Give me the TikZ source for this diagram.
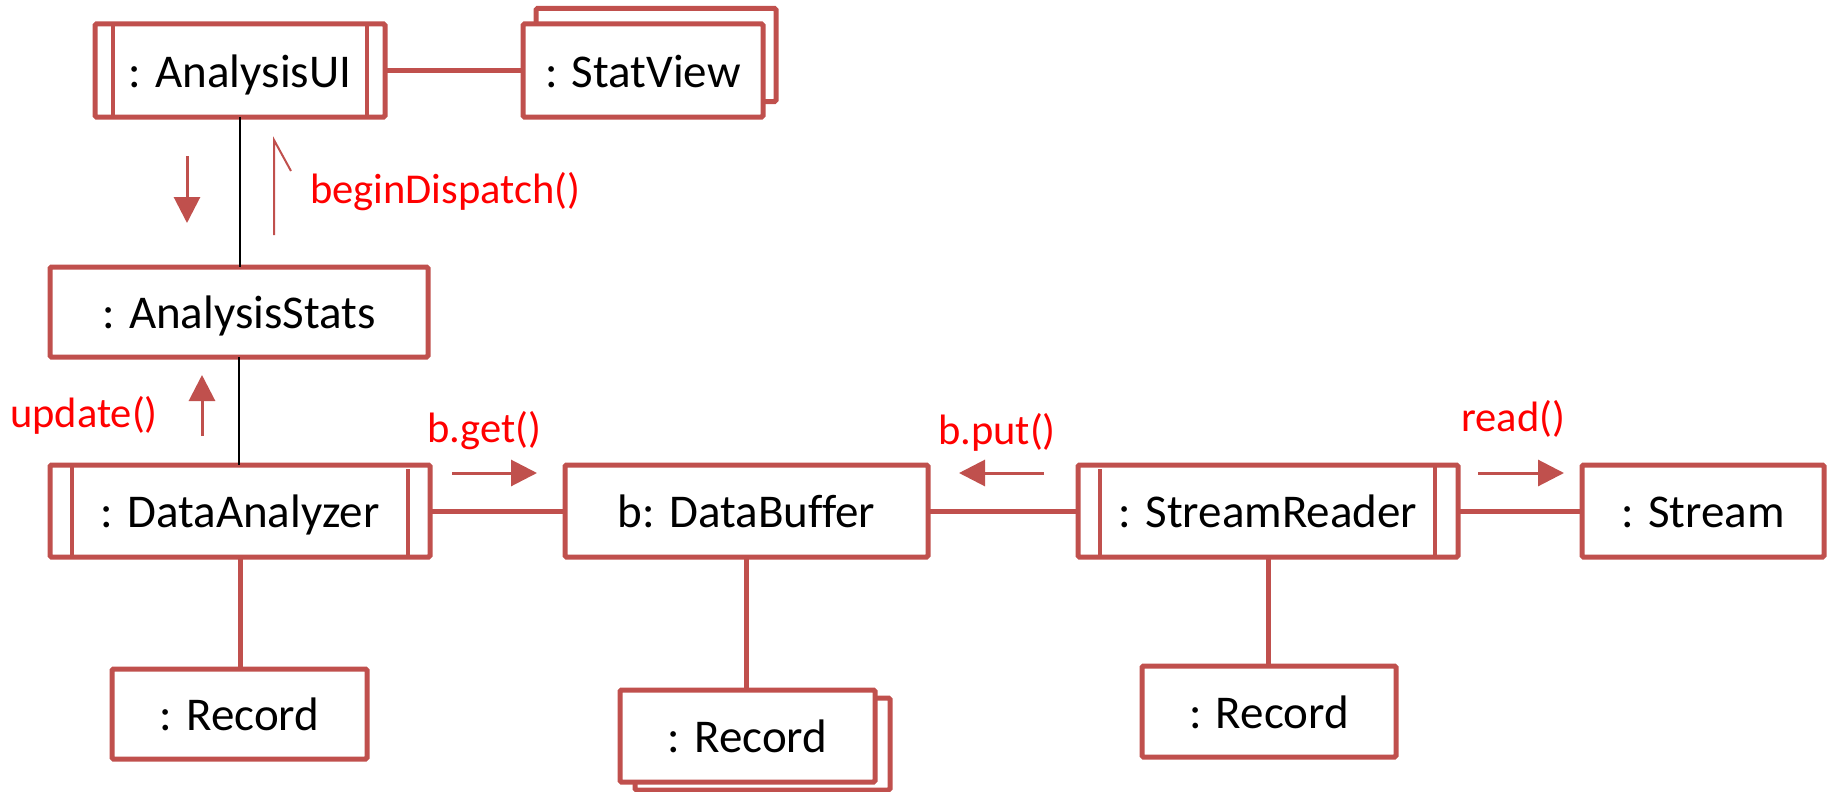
\documentclass[tikz,border=0pt]{standalone}
\usepackage{fontspec}
\setmainfont{Carlito}[Ligatures=NoCommon]
\usetikzlibrary{arrows.meta,calc}
\definecolor{boxred}{HTML}{C0504D}
\definecolor{msgred}{HTML}{FF0000}

\begin{document}
\begin{tikzpicture}[x=1pt,y=-1pt,
  obj/.style={draw=boxred, line width=5pt, fill=white, rounded corners=1.5pt,
    inner sep=0pt, outer sep=0pt, font=\fontsize{47}{56}\selectfont,
    text height=33pt, text depth=0pt},
  link/.style={draw=boxred, line width=5pt},
  ctrl/.style={draw=black, line width=2pt},
  bar/.style={draw=boxred, line width=4.5pt},
  msg/.style={text=msgred, font=\fontsize{42.5}{50}\selectfont,
    anchor=base west, inner sep=0pt},
  msgarrow/.style={draw=boxred, line width=3pt,
    -{Triangle[length=26pt,width=26pt]}},
]
\useasboundingbox (0,0) rectangle (1831,792);

% objects
\node[obj, minimum width=290pt, minimum height=93pt] (ui) at (240,70.5) {: AnalysisUI};
\node[obj, minimum width=240pt, minimum height=93pt] (svback) at (656,55) {};
\node[obj, minimum width=240pt, minimum height=93pt] (sv) at (643,70.5) {: StatView};
\node[obj, minimum width=378pt, minimum height=90pt] (stats) at (239,312) {: AnalysisStats};
\node[obj, minimum width=380pt, minimum height=92pt] (da) at (240,511) {: DataAnalyzer};
\node[obj, minimum width=363pt, minimum height=92pt] (db) at (746.5,511) {b: DataBuffer};
\node[obj, minimum width=380pt, minimum height=92pt] (sr) at (1268,511) {: StreamReader};
\node[obj, minimum width=242pt, minimum height=92pt] (st) at (1703,511) {: Stream};
\node[obj, minimum width=255pt, minimum height=90pt] (rec1) at (239.5,714) {: Record};
\node[obj, minimum width=255pt, minimum height=92pt] (rec2back) at (762.5,744) {};
\node[obj, minimum width=255pt, minimum height=92pt] (rec2) at (747.5,736) {: Record};
\node[obj, minimum width=254pt, minimum height=91pt] (rec3) at (1269,711.5) {: Record};

% active-object side bars
\draw[bar] ($(ui.north west)+(18,0)$) -- ($(ui.south west)+(18,0)$);
\draw[bar] ($(ui.north east)+(-18,0)$) -- ($(ui.south east)+(-18,0)$);
\draw[bar] ($(da.north west)+(22,0)$) -- ($(da.south west)+(22,0)$);
\draw[bar] ($(da.north east)+(-22,4)$) -- ($(da.south east)+(-22,2)$);
\draw[bar] ($(sr.north west)+(22,4)$) -- ($(sr.south west)+(22,2)$);
\draw[bar] ($(sr.north east)+(-23,0)$) -- ($(sr.south east)+(-23,0)$);

% links
\draw[link] (ui) -- (sv);
\draw[link] (da) -- (db);
\draw[link] (db) -- (sr);
\draw[link] (sr) -- (st);
\draw[link] (da.south) -- (da.south |- rec1.north);
\draw[link] (db.south) -- (db.south |- rec2.north);
\draw[link] (sr.south) -- (sr.south |- rec3.north);
\draw[ctrl] (ui.south) -- (ui.south |- stats.north);
\draw[ctrl] (stats.south) -- (stats.south |- da.north);

% messages
\coordinate (m1a) at (187,156);
\coordinate (m1b) at (187,223);
\draw[msgarrow] (m1a) -- (m1b);

\coordinate (bd1) at (274,235);
\coordinate (bd2) at (274,140);
\coordinate (bd3) at (291,171);
\draw[boxred, line width=2pt] (bd1) -- (bd2) -- (bd3);
\node[msg] (lbd) at (310,203) {beginDispatch()};

\coordinate (m2a) at (202,436);
\coordinate (m2b) at (202,375);
\draw[msgarrow] (m2a) -- (m2b);
\node[msg] (lup) at (10,427) {update()};

\coordinate (m3a) at (452,473);
\coordinate (m3b) at (537,473);
\draw[msgarrow] (m3a) -- (m3b);
\node[msg] (lget) at (427,442) {b.get()};

\coordinate (m4a) at (1044,473);
\coordinate (m4b) at (959,473);
\draw[msgarrow] (m4a) -- (m4b);
\node[msg] (lput) at (938,444) {b.put()};

\coordinate (m5a) at (1478,473);
\coordinate (m5b) at (1564,473);
\draw[msgarrow] (m5a) -- (m5b);
\node[msg] (lread) at (1461,431) {read()};
\end{tikzpicture}
\end{document}
